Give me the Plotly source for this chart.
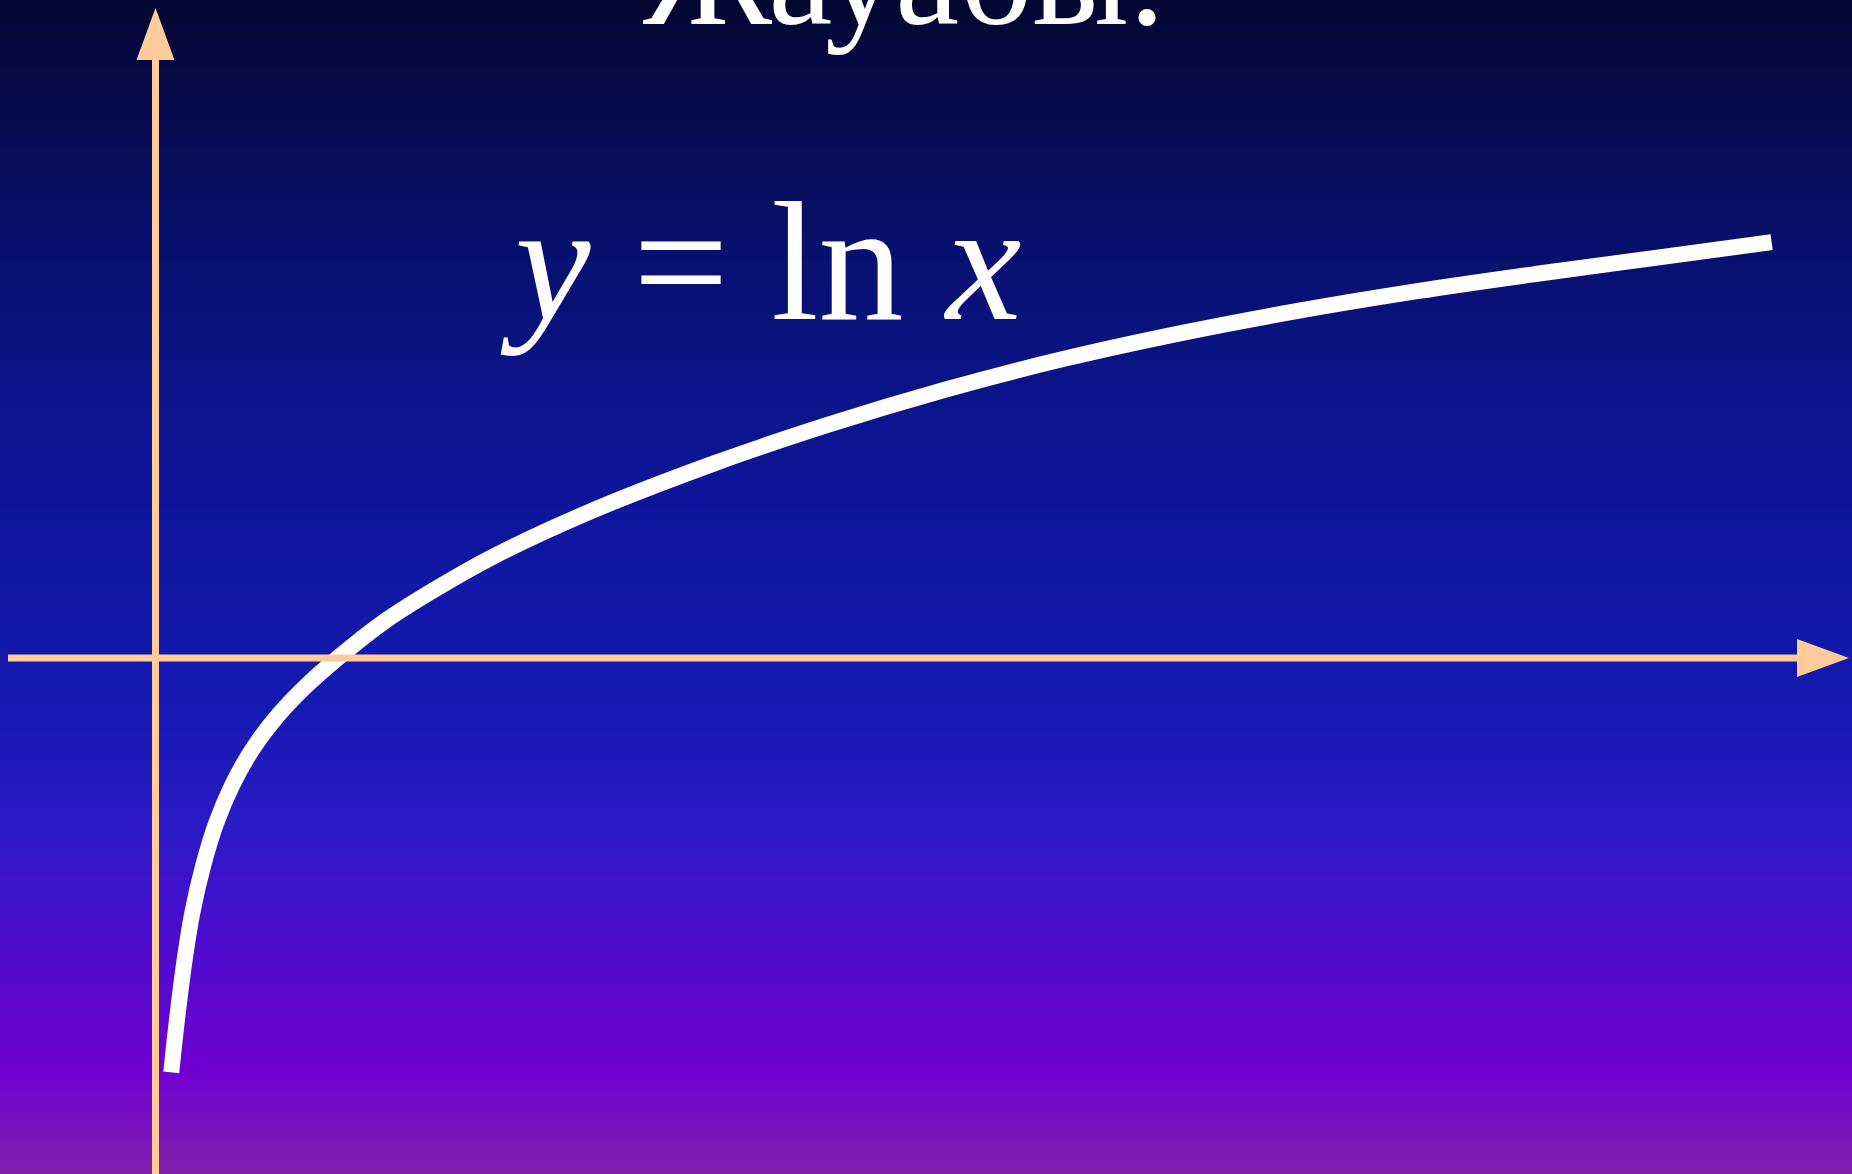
import plotly.graph_objects as go

# Canvas size and the placement of the coordinate origin (pixels), one unit = UNIT px
W, H = 1852, 1174
ORIGIN_X, ORIGIN_Y, UNIT = 155.5, 658.0, 183.0

X_RANGE = [(0 - ORIGIN_X) / UNIT, (W - ORIGIN_X) / UNIT]
Y_RANGE = [-(H - ORIGIN_Y) / UNIT, ORIGIN_Y / UNIT]

# Points of the logarithm curve y = ln x (in axis units)
curve_x = [0.0861, 0.1184, 0.1571, 0.2023, 0.2604, 0.3314, 0.4217, 0.5315, 0.6734,
           0.8283, 0.9961, 1.2479, 1.5383, 1.8610, 2.3773, 3.0227, 3.6681, 4.3136,
           4.9590, 5.6044, 6.2498, 6.8952, 7.5406, 8.1860, 8.8314]
curve_y = [-2.2647, -1.9678, -1.6645, -1.3870, -1.1353, -0.9029, -0.6899, -0.4963, -0.3091,
           -0.1478, 0.0, 0.1975, 0.3815, 0.5622, 0.8010, 1.0527, 1.2721, 1.4657,
           1.6336, 1.7755, 1.8982, 2.0047, 2.0982, 2.1854, 2.2725]

# Labels
title_text = "Жауабы."
formula_text = "<i>y</i> = ln <i>x</i>"

# Background gradient: distance from top edge (px) and colour at that height
bg_stop_px = [0, 80, 240, 420, 600, 700, 820, 900, 1000, 1070, 1174]
bg_colors = ["#03062f", "#060a48", "#08106c", "#0c1490", "#1217a8", "#1519b2",
             "#2a1ac4", "#4010cc", "#5e08d0", "#7000d2", "#8020ac"]

AXIS_COLOR = "#FFCC99"
SERIF = "Liberation Serif, Times New Roman, serif"

fig = go.Figure()

# gradient backdrop as a smoothed two-column heatmap
rows = sorted(zip(bg_stop_px, bg_colors), key=lambda t: -t[0])
frac = [1 - p / H for p, _ in rows]
colorscale = [[f, c] for f, (_, c) in zip(frac, rows)]
yy = [(ORIGIN_Y - p) / UNIT for p, _ in rows]
yy = [yy[0] - 1] + yy + [yy[-1] + 1]
zz = [frac[0]] + frac + [frac[-1]]
fig.add_trace(go.Heatmap(
    x=[X_RANGE[0] - 1, X_RANGE[1] + 1], y=yy,
    z=[[v, v] for v in zz],
    colorscale=colorscale, zmin=0, zmax=1, zsmooth="best",
    showscale=False, hoverinfo="skip",
))

# the curve
fig.add_trace(go.Scatter(
    x=curve_x, y=curve_y, mode="lines",
    line=dict(color="white", width=16, shape="spline", smoothing=1.0),
    hoverinfo="skip", showlegend=False,
))

# coordinate axes with arrowheads
lw = 7
x_start = (8 - ORIGIN_X) / UNIT
x_tip = (1849 - ORIGIN_X) / UNIT
y_tip = (ORIGIN_Y - 8) / UNIT
head_len = 52 / UNIT
head_half = 19 / UNIT
shapes = [
    dict(type="line", x0=x_start, y0=0, x1=x_tip - head_len, y1=0,
         line=dict(color=AXIS_COLOR, width=lw)),
    dict(type="path",
         path=f"M {x_tip - head_len},{-head_half} L {x_tip},0 L {x_tip - head_len},{head_half} Z",
         fillcolor=AXIS_COLOR, line=dict(width=0)),
    dict(type="line", x0=0, y0=Y_RANGE[0], x1=0, y1=y_tip - head_len,
         line=dict(color=AXIS_COLOR, width=lw)),
    dict(type="path",
         path=f"M {-head_half},{y_tip - head_len} L 0,{y_tip} L {head_half},{y_tip - head_len} Z",
         fillcolor=AXIS_COLOR, line=dict(width=0)),
]

annotations = [
    dict(text=title_text, xref="paper", yref="paper", x=904 / W, y=1 + 25 / H,
         xanchor="center", yanchor="middle", showarrow=False,
         font=dict(family=SERIF, size=144, color="white")),
    dict(text=formula_text, xref="paper", yref="paper", x=761 / W, y=1 - 262 / H,
         xanchor="center", yanchor="middle", showarrow=False,
         font=dict(family=SERIF, size=170, color="white")),
]

fig.update_layout(
    width=W, height=H,
    margin=dict(l=0, r=0, t=0, b=0),
    paper_bgcolor="#03062f", plot_bgcolor="#03062f",
    xaxis=dict(range=X_RANGE, visible=False, fixedrange=True),
    yaxis=dict(range=Y_RANGE, visible=False, fixedrange=True),
    shapes=shapes, annotations=annotations, showlegend=False,
)

fig.write_html("out.html")
